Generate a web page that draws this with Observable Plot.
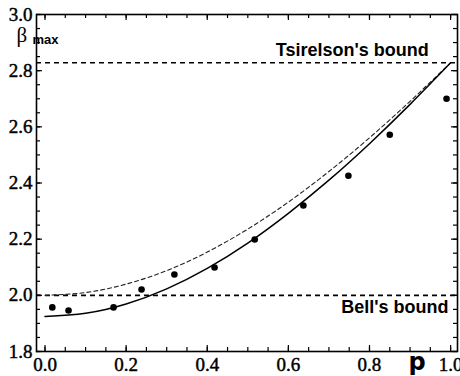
<!DOCTYPE html>
<html><head><meta charset="utf-8">
<script src="https://cdn.jsdelivr.net/npm/d3@7"></script>
<script src="https://cdn.jsdelivr.net/npm/@observablehq/plot@0.6"></script>
<style>
body{margin:0;background:#fff}
#chart svg{display:block}
#chart g[aria-label$="tick label"] text {
  stroke: black; stroke-width: 0.45px;
}
</style>
</head><body><div id="chart"></div>
<script>
// Measured points
const pData    = [0.018, 0.058, 0.169, 0.238, 0.319, 0.418, 0.517, 0.637, 0.748, 0.850, 0.990];
const betaData = [1.957, 1.946, 1.957, 2.021, 2.074, 2.099, 2.199, 2.320, 2.426, 2.572, 2.700];
// Curves
const pCurve     = [0.0, 0.1, 0.2, 0.3, 0.4, 0.5, 0.6, 0.7, 0.8, 0.9, 1.0];
const fitCurve   = [1.925, 1.936, 1.969, 2.023, 2.096, 2.186, 2.292, 2.410, 2.540, 2.680, 2.828];
const idealCurve = [2.000, 2.010, 2.040, 2.088, 2.154, 2.236, 2.332, 2.441, 2.561, 2.691, 2.828];
// Bounds
const bellBound = 2.0;
const tsirelsonBound = 2.828;
const boundLabels = ["Tsirelson's bound", "Bell's bound"];
// Ticks
const xTicks = [0.0, 0.2, 0.4, 0.6, 0.8, 1.0];
const yTicks = [1.8, 2.0, 2.2, 2.4, 2.6, 2.8, 3.0];
const xMinor = d3.range(0, 21).map(i => i * 0.05);
const yMinor = d3.range(0, 25).map(i => 1.8 + i * 0.05);

const W = 460, H = 376, mL = 36, mR = 3, mT = 14, mB = 25;
const fw = W - mL - mR, fh = H - mT - mB;
const serif = "Liberation Serif";
const sans = "Liberation Sans";

const chart = Plot.plot({
  width: W, height: H,
  marginLeft: mL, marginRight: mR, marginTop: mT, marginBottom: mB,
  x: {domain: [-0.021, 1.017]},
  y: {domain: [1.8, 3.0]},
  style: {background: "white", color: "black", overflow: "visible", fontSize: "19px"},
  marks: [
    Plot.ruleY([bellBound, tsirelsonBound], {stroke: "black", strokeWidth: 1.6, strokeDasharray: "5,4"}),
    Plot.line(pCurve, {x: d => d, y: (d, i) => idealCurve[i], curve: "natural", stroke: "#222", strokeWidth: 1.1, strokeDasharray: "4,3"}),
    Plot.line(pCurve, {x: d => d, y: (d, i) => fitCurve[i], curve: "natural", stroke: "black", strokeWidth: 1.5}),
    Plot.dot(pData, {x: d => d, y: (d, i) => betaData[i], r: 3.3, fill: "black", stroke: "none"}),
    // inward ticks
    Plot.tickX(xMinor, {x: d => d, insetTop: fh - 4, stroke: "black", strokeWidth: 1.2}),
    Plot.tickX(xMinor, {x: d => d, insetBottom: fh - 4, stroke: "black", strokeWidth: 1.2}),
    Plot.tickX(xTicks, {x: d => d, insetTop: fh - 6, stroke: "black", strokeWidth: 1.2}),
    Plot.tickX(xTicks, {x: d => d, insetBottom: fh - 6, stroke: "black", strokeWidth: 1.2}),
    Plot.tickY(yMinor, {y: d => d, insetRight: fw - 4, stroke: "black", strokeWidth: 1.2}),
    Plot.tickY(yMinor, {y: d => d, insetLeft: fw - 4, stroke: "black", strokeWidth: 1.2}),
    Plot.tickY(yTicks, {y: d => d, insetRight: fw - 6, stroke: "black", strokeWidth: 1.2}),
    Plot.tickY(yTicks, {y: d => d, insetLeft: fw - 6, stroke: "black", strokeWidth: 1.2}),
    Plot.frame({stroke: "black", strokeWidth: 1.6}),
    Plot.axisX(xTicks, {tickSize: 0, tickPadding: 6, tickFormat: d3.format(".1f"), label: null, fontFamily: serif, fontSize: 19, fill: "black"}),
    Plot.axisY(yTicks, {tickSize: 0, tickPadding: 4, tickFormat: d3.format(".1f"), label: null, fontFamily: serif, fontSize: 19, fill: "black"}),
    // bound labels
    Plot.text([boundLabels[0]], {x: 0.946, y: tsirelsonBound, text: d => d, textAnchor: "end", dy: -13, fontFamily: sans, fontWeight: "bold", fontSize: 18, fill: "black"}),
    Plot.text([boundLabels[1]], {x: 0.995, y: bellBound, text: d => d, textAnchor: "end", dy: 12, fontFamily: sans, fontWeight: "bold", fontSize: 18, fill: "black"}),
    // axis labels
    Plot.text(["p"], {x: 0.896, y: 1.8, text: d => d, textAnchor: "start", dy: 11.3, fontFamily: "DejaVu Sans", fontWeight: 900, fontSize: 24, fill: "black"}),
    Plot.text(["β"], {x: -0.0703, y: 3.0, text: d => d, textAnchor: "start", dy: 21, fontFamily: serif, fontSize: 21, fill: "black"}),
    Plot.text(["max"], {x: -0.0308, y: 3.0, text: d => d, textAnchor: "start", dy: 25.8, fontFamily: sans, fontWeight: "bold", fontSize: 13, fill: "black"})
  ]
});
document.getElementById("chart").appendChild(chart);
</script>
</body></html>
